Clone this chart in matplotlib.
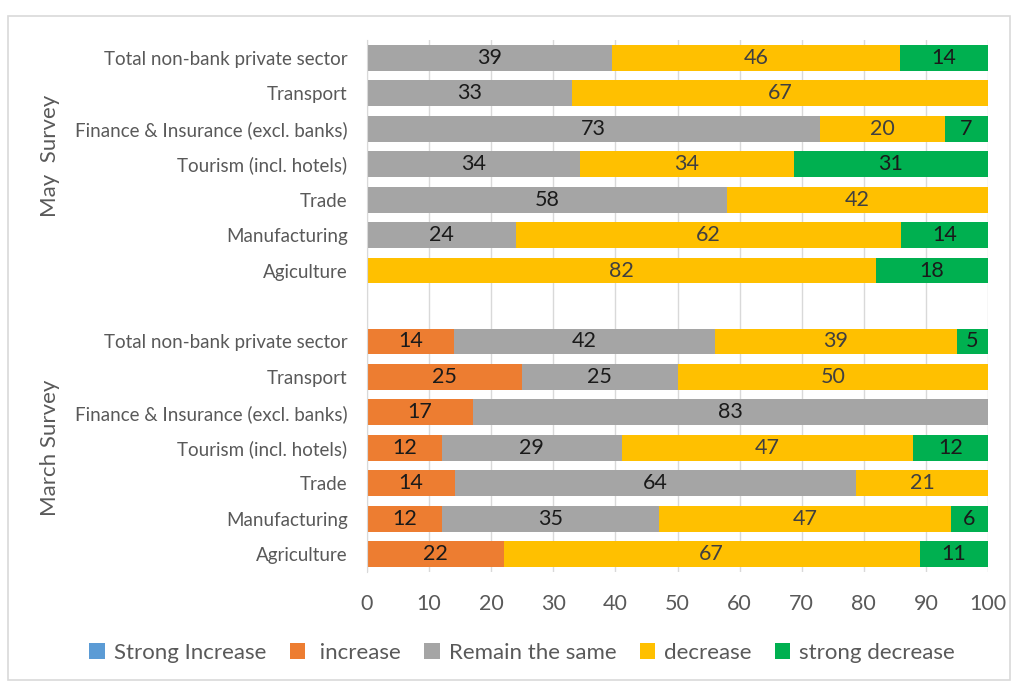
import numpy as np
import matplotlib.pyplot as plt
from matplotlib.patches import Rectangle

plt.rcParams['font.family'] = ['Lato', 'DejaVu Sans']

# sectors, listed top to bottom within each survey block
may_sectors = ["Total non-bank private sector", "Transport",
               "Finance & Insurance (excl. banks)", "Tourism (incl. hotels)",
               "Trade", "Manufacturing", "Agiculture"]
march_sectors = ["Total non-bank private sector", "Transport",
                 "Finance & Insurance (excl. banks)", "Tourism (incl. hotels)",
                 "Trade", "Manufacturing", "Agriculture"]

series = ["Strong Increase", " increase", "Remain the same", "decrease", "strong decrease"]
colors = ["#5B9BD5", "#ED7D31", "#A5A5A5", "#FFC000", "#00B050"]
label_colors = ["#1a1a1a", "#1a1a1a", "#1a1a1a", "#404040", "#1a1a1a"]

# shares per sector: strong increase, increase, same, decrease, strong decrease
may_strong_inc = [0, 0, 0, 0, 0, 0, 0]
may_inc = [0, 0, 0, 0, 0, 0, 0]
may_same = [39, 33, 73, 34, 58, 24, 0]
may_dec = [46, 67, 20, 34, 42, 62, 82]
may_strong_dec = [14, 0, 7, 31, 0, 14, 18]

march_strong_inc = [0, 0, 0, 0, 0, 0, 0]
march_inc = [14, 25, 17, 12, 14, 12, 22]
march_same = [42, 25, 83, 29, 64, 35, 0]
march_dec = [39, 50, 0, 47, 21, 47, 67]
march_strong_dec = [5, 0, 0, 12, 0, 6, 11]

may = np.array([may_strong_inc, may_inc, may_same, may_dec, may_strong_dec], float)
march = np.array([march_strong_inc, march_inc, march_same, march_dec, march_strong_dec], float)

# one empty slot between the two blocks
data = np.concatenate([march[:, ::-1], np.zeros((5, 1)), may[:, ::-1]], axis=1)
labels = march_sectors[::-1] + [""] + may_sectors[::-1]
ypos = np.arange(len(labels))

# 100% stacked: scale each row by its total
totals = data.sum(axis=0)
totals[totals == 0] = 1
shares = data / totals * 100

fig = plt.figure(figsize=(10.16, 6.82), dpi=100)
ax = fig.add_axes([367 / 1016, 110 / 682, 621 / 1016, 532 / 682])

left = np.zeros(len(labels))
for i in range(5):
    bars = ax.barh(ypos, shares[i], left=left, height=0.73, color=colors[i],
                   label=series[i], zorder=2)
    for b, v in zip(bars, data[i]):
        if v > 0:
            ax.text(b.get_x() + b.get_width() / 2, b.get_y() + b.get_height() / 2,
                    f"{v:.0f}", ha="center", va="center", fontsize=15.5,
                    color=label_colors[i], zorder=3)
    left += shares[i]

ax.set_xlim(0, 100)
ax.set_ylim(-0.5, len(labels) - 0.5)
ax.set_xticks(np.arange(0, 101, 10))
ax.set_yticks(ypos)
ax.set_yticklabels(labels)
ax.tick_params(axis="y", length=0, labelsize=13.5, labelcolor="#595959", pad=14)
ax.tick_params(axis="x", length=0, labelsize=15.5, labelcolor="#595959", pad=16)
ax.grid(axis="x", color="#D9D9D9", linewidth=1, zorder=0)
for s in ["top", "right", "bottom"]:
    ax.spines[s].set_visible(False)
ax.spines["left"].set_color("#D9D9D9")

fig.text(50 / 1016, 1 - 156 / 682, "May  Survey", rotation=90, ha="center",
         va="center", fontsize=16, color="#595959")
fig.text(50 / 1016, 1 - 448 / 682, "March Survey", rotation=90, ha="center",
         va="center", fontsize=16, color="#595959")

fig.legend(loc="center", bbox_to_anchor=(0.514, 1 - 653 / 682), ncol=5,
           frameon=False, fontsize=16, labelcolor="#595959", handlelength=0.7,
           handleheight=0.7, handletextpad=0.4, columnspacing=1.05)

fig.patches.append(Rectangle((8 / 1016, 2 / 682), 1002 / 1016, 664 / 682,
                             transform=fig.transFigure, fill=False,
                             edgecolor="#D9D9D9", linewidth=1.2))

fig.savefig("out.png", dpi=100)
